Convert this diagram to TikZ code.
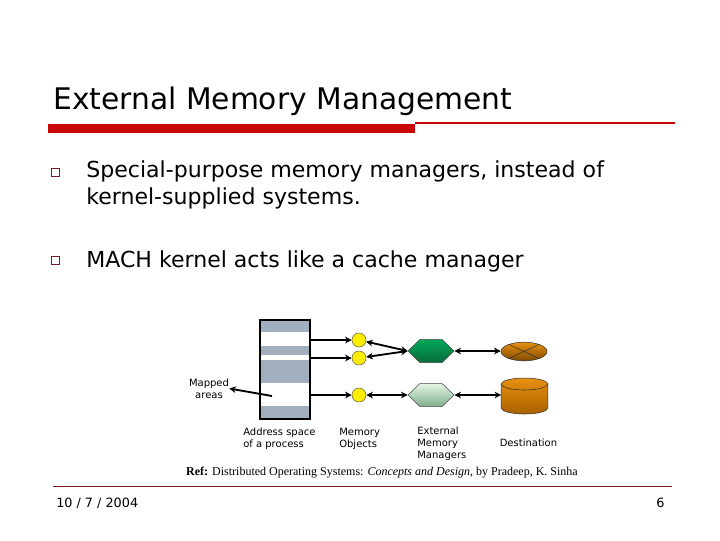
\documentclass[tikz,border=0pt]{standalone}
\usepackage{fontspec}
\setmainfont{DejaVu Sans}
\newfontfamily\reffont{Liberation Serif}
\usetikzlibrary{shapes.geometric, shapes.symbols, arrows.meta, positioning, fit}
\definecolor{slidered}{HTML}{C80808}
\definecolor{ruledark}{HTML}{7A1E1E}
\definecolor{bandgray}{HTML}{A2AFBF}
\definecolor{mgrtop}{HTML}{00A858}
\definecolor{mgrbot}{HTML}{0B6B3A}
\definecolor{paletop}{HTML}{E4F6E4}
\definecolor{palebot}{HTML}{7FAE8C}
\definecolor{desttop}{HTML}{E8900F}
\definecolor{destbot}{HTML}{A86200}
\tikzset{
    slidetitle/.style={anchor=base west, inner sep=0pt, font=\fontsize{22.3pt}{26pt}\selectfont},
    bodytext/.style={anchor=base west, inner sep=0pt, align=left, font=\fontsize{16.55pt}{20.2pt}\selectfont},
    bulletbox/.style={rectangle, draw=ruledark, line width=1pt, fill=white, minimum size=5.8pt, inner sep=0pt},
    captiontext/.style={anchor=base west, inner sep=0pt, align=left, font=\fontsize{7.5pt}{9pt}\selectfont},
    footertext/.style={anchor=base west, inner sep=0pt, font=\fontsize{9.6pt}{12pt}\selectfont},
    band/.style={rectangle, minimum width=37.5pt, inner sep=0pt, outer sep=0pt},
    grayband/.style={band, fill=bandgray},
    whiteband/.style={band, fill=white},
    memobj/.style={circle, draw=black!70!yellow, fill=yellow!95!orange, minimum size=10.5pt, inner sep=0pt},
    mgrhex/.style={signal, signal to=west and east, signal pointer angle=88, draw=black!70, minimum width=34.5pt, minimum height=17.5pt, inner sep=0pt},
    arrowline/.style={-{Stealth[length=5pt,width=5pt]}, line width=1.4pt},
    bothline/.style={{Stealth[length=5pt,width=5pt]}-{Stealth[length=5pt,width=5pt]}, line width=1.4pt}
}
\begin{document}
\begin{tikzpicture}[x=0.75pt, y=-0.75pt]
  \useasboundingbox (0,0) rectangle (720,540);
  % heading and bullets
  \node[slidetitle] (title) at (53,109) {External Memory Management};
  \coordinate (ruleA) at (48,128.5);
  \coordinate (ruleB) at (415,128.5);
  \coordinate (ruleC) at (415,123);
  \coordinate (ruleD) at (675,123);
  \draw[slidered, line width=6.75pt] (ruleA) -- (ruleB);
  \draw[slidered, line width=1pt] (ruleC) -- (ruleD);
  \node[bulletbox] (bulletA) at (55.5,172.5) {};
  \node[bulletbox] (bulletB) at (55.5,260.5) {};
  \node[bodytext] (pointA) at (86,204) {Special-purpose memory managers, instead of\\kernel-supplied systems.};
  \node[bodytext] (pointB) at (86,267) {MACH kernel acts like a cache manager};
  % address space
  \node[grayband, minimum height=9pt] (bandA) at (285,326) {};
  \node[whiteband, minimum height=10.5pt, below=0pt of bandA] (bandB) {};
  \node[grayband, minimum height=6.75pt, below=0pt of bandB] (bandC) {};
  \node[whiteband, minimum height=3.75pt, below=0pt of bandC] (bandD) {};
  \node[grayband, minimum height=17.25pt, below=0pt of bandD] (bandE) {};
  \node[whiteband, minimum height=17.25pt, below=0pt of bandE] (bandF) {};
  \node[grayband, minimum height=9.75pt, below=0pt of bandF] (bandG) {};
  \node[fit=(bandA)(bandG), draw=black, line width=2.1pt, inner sep=0pt] (space) {};
  % memory objects
  \node[memobj] (objA) at (359,340) {};
  \node[memobj] (objB) at (359,358) {};
  \node[memobj] (objC) at (359,395) {};
  % managers and destinations
  \node[mgrhex, top color=mgrtop, bottom color=mgrbot] (mgrA) at (431,351) {};
  \node[mgrhex, top color=paletop, bottom color=palebot] (mgrB) at (431,395) {};
  \node[ellipse, draw=black!80, top color=desttop, bottom color=destbot!75!black, minimum width=34.5pt, minimum height=14pt, inner sep=0pt] (destA) at (524,351.5) {};
  \draw[black!80] (destA.155) -- (destA.-25) (destA.25) -- (destA.205);
  \node[rectangle, minimum width=35pt, minimum height=27pt, inner sep=0pt, outer sep=0pt] (destB) at (524.5,396) {};
  \draw[black!80, top color=desttop, bottom color=destbot] ([yshift=-4.5pt]destB.north west) arc (180:0:17.5pt and 4.5pt) -- ([yshift=4.5pt]destB.south east) arc (360:180:17.5pt and 4.5pt) -- cycle;
  \draw[black!80] ([yshift=-4.5pt]destB.north west) arc (180:360:17.5pt and 4.5pt);
  % connectors
  \draw[arrowline] (objA -| space.east) -- (objA);
  \draw[arrowline] (objB -| space.east) -- (objB);
  \draw[arrowline] (objC -| space.east) -- (objC);
  \draw[bothline] (objA) -- (mgrA.west);
  \draw[bothline] (objB) -- (mgrA.west);
  \draw[bothline] (objC) -- (mgrB.west);
  \draw[bothline] (mgrA.east) -- (mgrA.east -| destA.west);
  \draw[bothline] (mgrB.east) -- (mgrB.east -| destB.west);
  \coordinate (mapstart) at (272,396);
  \node[captiontext, anchor=center, align=center] (mapped) at (209,388.5) {Mapped\\areas};
  \draw[arrowline] (mapstart) -- (mapped.east);
  % captions
  \node[captiontext] (capspace) at (243,447) {Address space\\of a process};
  \node[captiontext] (capobj) at (339,447) {Memory\\Objects};
  \node[captiontext] (capmgr) at (417,458) {External\\Memory\\Managers};
  \node[captiontext] (capdest) at (499.5,446) {Destination};
  \node[inner sep=0pt, font=\reffont\fontsize{9pt}{11pt}\selectfont] (refline) at (382,472.5) {\textbf{Ref:} Distributed Operating Systems: \textit{Concepts and Design}, by Pradeep, K. Sinha};
  % footer
  \coordinate (footA) at (53,486.5);
  \coordinate (footB) at (672,486.5);
  \draw[ruledark, line width=0.7pt] (footA) -- (footB);
  \node[footertext] (datetext) at (56,507) {10 / 7 / 2004};
  \node[footertext] (pagenum) at (656,507) {6};
\end{tikzpicture}
\end{document}
